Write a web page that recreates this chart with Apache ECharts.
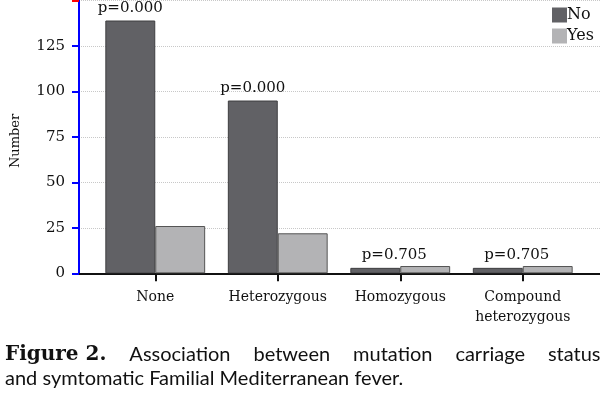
<!DOCTYPE html>
<html><head><meta charset="utf-8">
<script src="https://cdn.jsdelivr.net/npm/echarts@6/dist/echarts.min.js"></script>
<style>html,body{margin:0;padding:0;background:#fff}#c{width:600px;height:393px}</style>
</head><body><div id="c"></div>
<script>
const categories = ['None', 'Heterozygous', 'Homozygous', 'Compound\nheterozygous'];
const noValues = [139, 95, 3, 3];
const yesValues = [26, 22, 4, 4];
const pLabels = ['p=0.000', 'p=0.000', 'p=0.705', 'p=0.705'];
const seriesNames = ['No', 'Yes'];
const captionBold = 'Figure 2.';
const captionLine1 = ['Association', 'between', 'mutation', 'carriage', 'status'];
const captionLine2 = 'and symtomatic Familial Mediterranean fever.';

const serif = '"DejaVu Serif", serif';
const sans = 'Lato, "Noto Sans", sans-serif';
const capSize = 20;

const ctx = document.createElement('canvas').getContext('2d');
ctx.font = 'bold 20px "DejaVu Serif"';
let used = ctx.measureText(captionBold).width;
ctx.font = capSize + 'px Lato';
captionLine1.forEach(w => used += ctx.measureText(w).width);
const gapW = Math.max(4, (598 - used) / captionLine1.length - 0.5);
const line1 = '{b|' + captionBold + '}' + captionLine1.map(w => '{s|}{t|' + w + '}').join('');

const chart = echarts.init(document.getElementById('c'));
const yMax = 150;
const gridTop = 0.5, gridBottom = 119.7;

chart.setOption({
  animation: false,
  title: {
    left: 0, top: 338,
    text: line1 + '\n{t|' + captionLine2 + '}',
    textStyle: {
      fontFamily: sans, fontSize: capSize, fontWeight: 'normal', color: '#111', lineHeight: 24,
      rich: {
        b: { fontFamily: serif, fontWeight: 'bold', fontSize: 20, color: '#111', lineHeight: 24 },
        t: { fontFamily: sans, fontWeight: 'normal', fontSize: capSize, color: '#111', lineHeight: 24 },
        s: { width: gapW, lineHeight: 24 }
      }
    }
  },
  legend: {
    orient: 'vertical', left: 547, top: 2, itemWidth: 15, itemHeight: 15, itemGap: 5,
    icon: 'rect', data: seriesNames, itemStyle: { borderWidth: 0 },
    textStyle: { fontFamily: serif, fontSize: 16, color: '#111', padding: [0, 0, 0, -5] }
  },
  grid: [
    { left: 79, right: 0, top: gridTop, bottom: gridBottom, outerBoundsMode: 'none', containLabel: false },
    { left: 94, right: 16, top: gridTop, bottom: gridBottom, outerBoundsMode: 'none', containLabel: false }
  ],
  xAxis: [
    { gridIndex: 0, type: 'value', min: 0, max: 1, axisLine: { show: true, onZero: false, lineStyle: { color: '#111', width: 2 } },
      axisTick: { show: false }, axisLabel: { show: false }, splitLine: { show: false } },
    { gridIndex: 1, type: 'category', data: categories, axisLine: { show: false },
      axisTick: { show: true, alignWithLabel: true, length: 8, lineStyle: { color: '#111', width: 2 } },
      axisLabel: { fontFamily: serif, fontSize: 14, color: '#111', margin: 14, lineHeight: 20, interval: 0 } }
  ],
  yAxis: [
    { gridIndex: 0, type: 'value', min: 0, max: yMax, interval: 25,
      axisLine: { show: true, onZero: false, lineStyle: { color: 'red', width: 2 } },
      axisTick: { show: true, length: 7, lineStyle: { color: 'red', width: 2 } },
      axisLabel: { show: false },
      splitLine: { show: true, lineStyle: { color: '#c8c8c8', type: 'dotted', width: 1 } } },
    { gridIndex: 1, type: 'value', min: 0, max: yMax, interval: 25, offset: 15,
      name: 'Number', nameLocation: 'middle', nameGap: 57, nameRotate: 90,
      nameTextStyle: { fontFamily: serif, fontSize: 13, color: '#111', padding: [0, 8, 0, 0] },
      axisLine: { show: true, onZero: false, lineStyle: { color: 'blue', width: 2 } },
      axisTick: { show: true, length: 7, lineStyle: { color: 'blue', width: 2 } },
      axisLabel: { fontFamily: serif, fontSize: 15, color: '#111', margin: 14, showMaxLabel: false },
      splitLine: { show: false } }
  ],
  series: [
    { name: 'No', type: 'bar', xAxisIndex: 1, yAxisIndex: 1, barGap: '0%', barCategoryGap: '18.5%',
      itemStyle: { color: '#616165', borderColor: '#3e3e40', borderWidth: 1 },
      data: noValues.map((v, i) => ({
        value: v,
        label: { show: true, position: 'top', distance: 5, offset: v < 10 ? [19, 0] : [0, 0],
          formatter: pLabels[i], fontFamily: serif, fontSize: 15, color: '#111' }
      })) },
    { name: 'Yes', type: 'bar', xAxisIndex: 1, yAxisIndex: 1,
      itemStyle: { color: '#b3b3b5', borderColor: '#555', borderWidth: 1 },
      data: yesValues }
  ]
});
</script></body></html>
